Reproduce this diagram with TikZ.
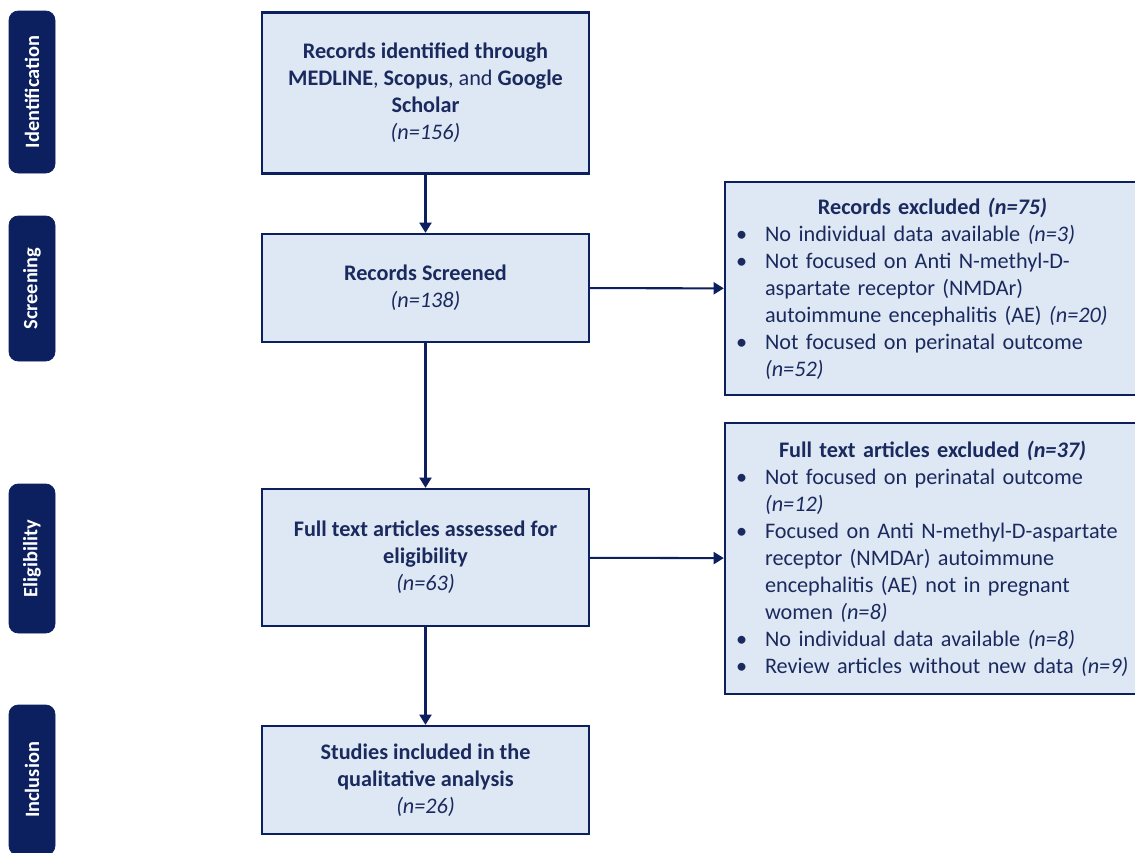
\documentclass[tikz,border=0pt]{standalone}
\usepackage{fontspec}
\setmainfont{Carlito}
\usepackage{enumitem}
\usetikzlibrary{positioning,arrows.meta}
\definecolor{navy}{HTML}{0C1F5E}
\definecolor{boxfill}{HTML}{DEE8F4}
\definecolor{txtblue}{HTML}{1B2A5E}

\begin{document}
\begin{tikzpicture}[x=0.54pt,y=-0.54pt,
				phase/.style={fill=navy,draw=navy,rounded corners=5pt,rotate=90,minimum height=46*0.54pt,
				  text=white,font=\bfseries\fontsize{11}{13}\selectfont},
				stage/.style={draw=navy,line width=1.3pt,fill=boxfill,text=txtblue,align=center,
				  minimum width=327*0.54pt,font=\fontsize{12}{14.6}\selectfont},
				excl/.style={draw=navy,line width=1.3pt,fill=boxfill,text=txtblue,inner xsep=8*0.54pt,
				  text width=399*0.54pt,minimum height=#1*0.54pt,font=\fontsize{12}{14.6}\selectfont},
				link/.style={draw=navy,line width=1.1pt,-{Triangle[length=5.5pt,width=6.5pt]}}]
				\useasboundingbox (0,0) rectangle (1135,852);
				\node[phase,minimum width=162*0.54pt] (id) at (32,92) {Identification};
				\node[phase,minimum width=145*0.54pt] (sc) at (32,288.5) {Screening};
				\node[phase,minimum width=149*0.54pt] (el) at (32,558.5) {Eligibility};
				\node[phase,minimum width=150*0.54pt] (in) at (32,780) {Inclusion};
				\node[stage,minimum height=161*0.54pt] (ident) at (425.5,93)
				  {\textbf{Records identified through}\\\textbf{MEDLINE}, \textbf{Scopus}, and \textbf{Google}\\\textbf{Scholar}\\\textit{(n=156)}};
				\node[stage,minimum height=108*0.54pt] (screen) at (425.5,288) {\textbf{Records Screened}\\\textit{(n=138)}};
				\node[stage,minimum height=137*0.54pt] (elig) at (425.5,557.5)
				  {\textbf{Full text articles assessed for}\\\textbf{eligibility}\\\textit{(n=63)}};
				\node[stage,minimum height=108*0.54pt] (incl) at (425.5,780)
				  {\textbf{Studies included in the}\\\textbf{qualitative analysis}\\\textit{(n=26)}};
				\node[excl=213] (rexcl) at (932.5,288.5) {\centering\textbf{Records excluded \textit{(n=75)}}\par
				  \begin{itemize}[nosep,leftmargin=17.3pt,labelsep=9.7pt]\raggedright
				  \item No individual data available \textit{(n=3)}
				  \item Not focused on Anti N-methyl-D-\\aspartate receptor (NMDAr)\\autoimmune encephalitis (AE) \textit{(n=20)}
				  \item Not focused on perinatal outcome\\\textit{(n=52)}
				  \end{itemize}};
				\node[excl=271] (fexcl) at (932.5,558.5) {\centering\textbf{Full text articles excluded \textit{(n=37)}}\par
				  \begin{itemize}[nosep,leftmargin=17.3pt,labelsep=9.7pt]\raggedright
				  \item Not focused on perinatal outcome\\\textit{(n=12)}
				  \item Focused on Anti N-methyl-D-aspartate\\receptor (NMDAr) autoimmune\\encephalitis (AE) not in pregnant\\women \textit{(n=8)}
				  \item No individual data available \textit{(n=8)}
				  \item Review articles without new data \textit{(n=9)}
				  \end{itemize}};
				\draw[link] (ident) -- (screen);
				\draw[link] (screen) -- (elig);
				\draw[link] (elig) -- (incl);
				\draw[link] (screen) -- (rexcl);
				\draw[link] (elig) -- (fexcl);
			  \end{tikzpicture}
\end{document}
